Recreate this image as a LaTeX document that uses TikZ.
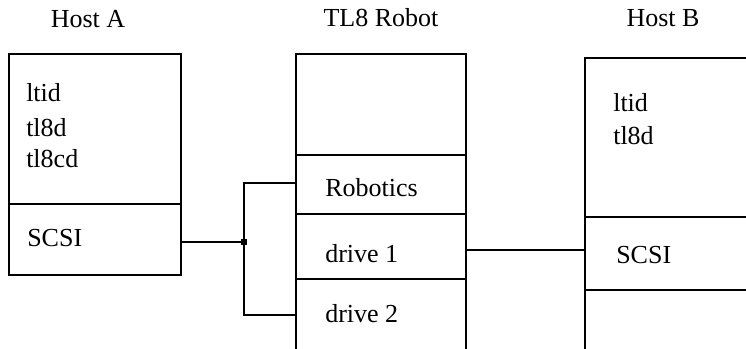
\documentclass[tikz,border=0pt]{standalone}
\usepackage{fontspec}
\setmainfont{Liberation Serif}
\tikzset{
  lbl/.style={inner sep=0pt,font=\fontsize{19.5}{24}\selectfont},
  box/.style={line width=1pt},
}
\begin{document}
\begin{tikzpicture}[x=0.75pt,y=0.75pt,yscale=-1,xscale=1]
\useasboundingbox (0,0) rectangle (746,349);
\clip (0,0) rectangle (746,349);

%Shape: Rectangle [id:hostA]
\draw [box] (9,54) rectangle (181,275) ;
\draw [box] (9,204) -- (181,204) ;
%Shape: Rectangle [id:robot]
\draw [box] (296,54) rectangle (466,400) ;
\draw [box] (296,155) -- (466,155) ;
\draw [box] (296,214) -- (466,214) ;
\draw [box] (296,279) -- (466,279) ;
%Shape: Rectangle [id:hostB]
\draw [box] (585,58) rectangle (800,400) ;
\draw [box] (585,217) -- (800,217) ;
\draw [box] (585,290) -- (800,290) ;

% Ports
\coordinate (scsiA) at (181,242) ;
\coordinate (robotics) at (296,183) ;
\coordinate (drvTwo) at (296,315) ;
\coordinate (drvOne) at (466,250) ;
\coordinate (scsiB) at (585,250) ;
% Junction
\node [fill,rectangle,inner sep=0pt,minimum width=4.5pt,minimum height=4.5pt] (jct) at (244,242) {} ;

%Straight Lines
\draw [box] (scsiA) -- (jct.center) ;
\draw [box] (robotics) -| (jct.center) ;
\draw [box] (drvTwo) -| (jct.center) ;
\draw [box] (drvOne) -- (scsiB) ;

% Text Node
\draw (88,28) node [lbl,anchor=base] (tHostA) {Host A};
% Text Node
\draw (381,27) node [lbl,anchor=base] (tRobot) {TL8 Robot};
% Text Node
\draw (663,27) node [lbl,anchor=base] (tHostB) {Host B};
% Text Node
\draw (26,102) node [lbl,anchor=base west] (aLtid) {ltid};
% Text Node
\draw (26,137) node [lbl,anchor=base west] (aTld) {tl8d};
% Text Node
\draw (26,168) node [lbl,anchor=base west] (aTlcd) {tl8cd};
% Text Node
\draw (27,246) node [lbl,anchor=base west] (aScsi) {SCSI};
% Text Node
\draw (325,196) node [lbl,anchor=base west] (rRob) {Robotics};
% Text Node
\draw (325,262) node [lbl,anchor=base west] (rDrvOne) {drive 1};
% Text Node
\draw (325,322) node [lbl,anchor=base west] (rDrvTwo) {drive 2};
% Text Node
\draw (613,112) node [lbl,anchor=base west] (bLtid) {ltid};
% Text Node
\draw (613,145) node [lbl,anchor=base west] (bTld) {tl8d};
% Text Node
\draw (616,263) node [lbl,anchor=base west] (bScsi) {SCSI};

\end{tikzpicture}
\end{document}
